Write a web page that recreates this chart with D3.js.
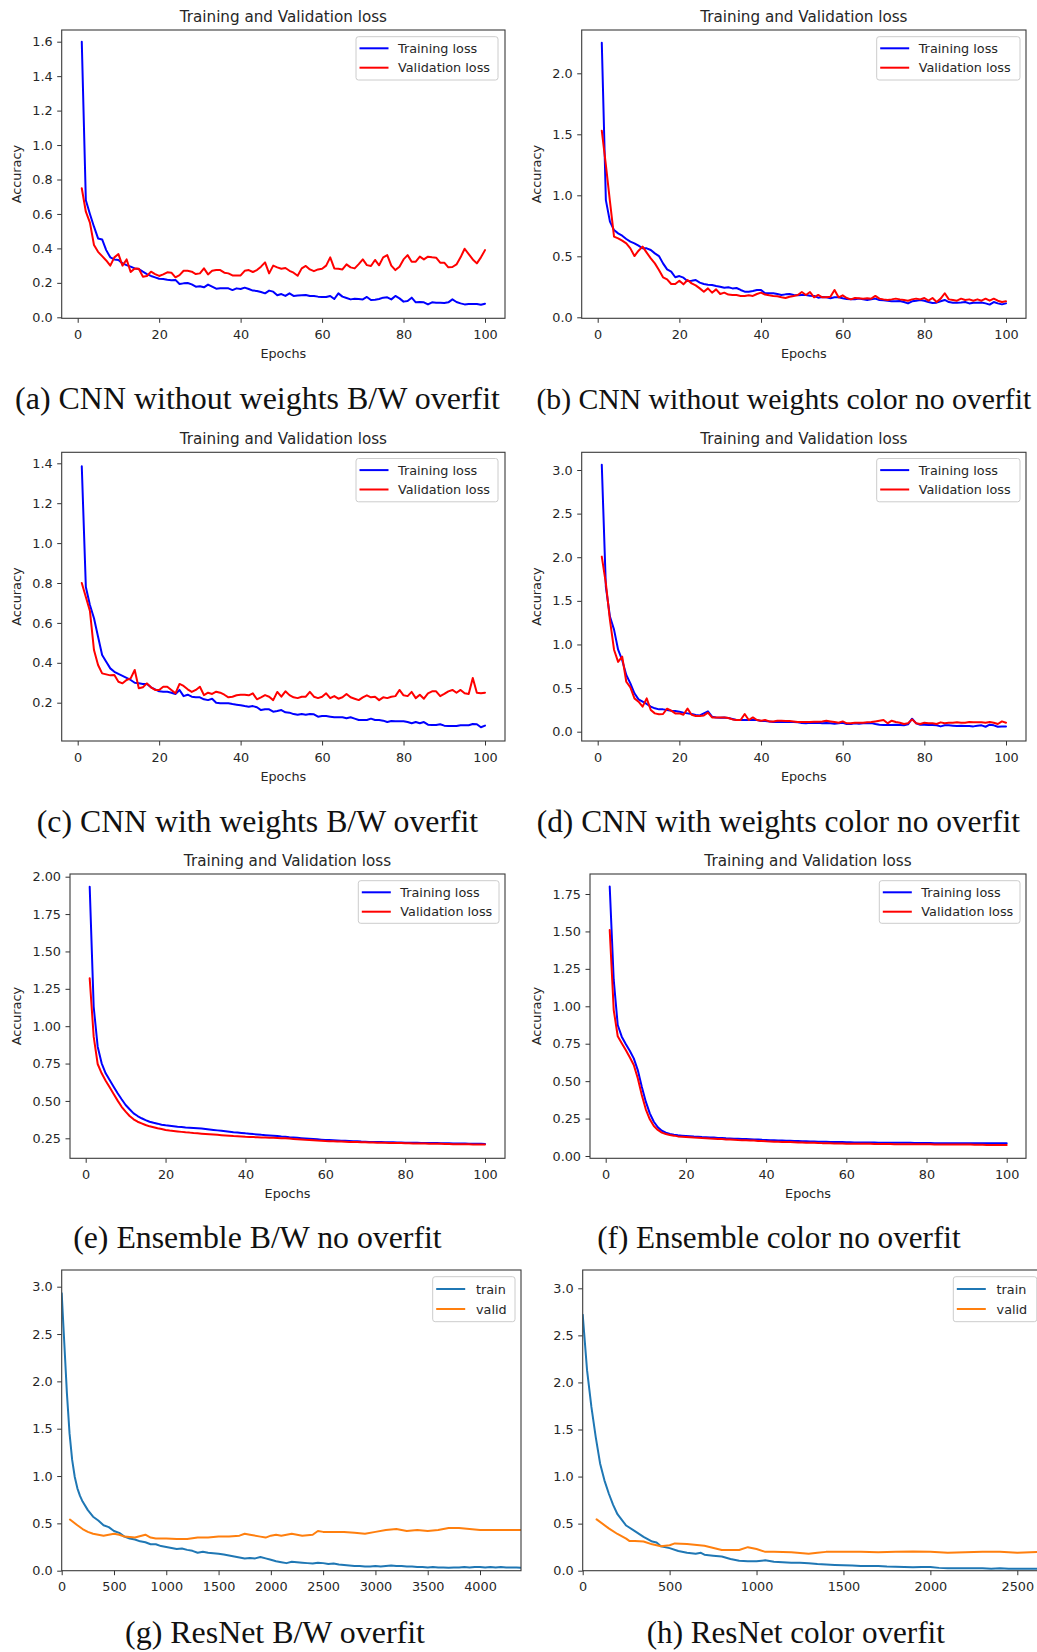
<!DOCTYPE html>
<html>
<head>
<meta charset="utf-8">
<script src="https://cdn.jsdelivr.net/npm/d3@7"></script>
<style>
  html, body { margin: 0; padding: 0; background: #fff; }
  svg { display: block; }
</style>
</head>
<body>
<svg id="fig" width="1037" height="1652"></svg>
<script>
// ---------- data ----------
const epochs = Array.from({length: 100}, (_, i) => i + 1);

// (a) CNN without weights, B/W
const aTrain = [1.60,0.68,0.60,0.526,0.458,0.452,0.39,0.348,0.336,0.333,0.313,0.303,0.294,0.284,0.28,0.265,0.251,0.24,0.232,0.224,
  0.222,0.218,0.215,0.217,0.193,0.197,0.199,0.191,0.178,0.18,0.174,0.19,0.178,0.166,0.168,0.168,0.168,0.158,0.168,0.164,
  0.172,0.164,0.155,0.153,0.147,0.139,0.155,0.149,0.128,0.135,0.124,0.139,0.124,0.126,0.128,0.13,0.124,0.124,0.12,0.118,
  0.118,0.124,0.106,0.139,0.12,0.112,0.104,0.108,0.106,0.104,0.118,0.10,0.102,0.106,0.114,0.116,0.104,0.124,0.11,0.091,
  0.095,0.114,0.087,0.089,0.087,0.075,0.087,0.085,0.085,0.083,0.087,0.104,0.089,0.081,0.075,0.077,0.077,0.077,0.073,0.079];
const aValid = [0.749,0.613,0.55,0.42,0.38,0.355,0.33,0.30,0.348,0.367,0.30,0.336,0.263,0.284,0.282,0.236,0.24,0.265,0.251,0.24,
  0.249,0.261,0.259,0.232,0.245,0.27,0.27,0.265,0.251,0.255,0.284,0.249,0.27,0.274,0.274,0.259,0.255,0.243,0.243,0.243,
  0.27,0.274,0.263,0.274,0.294,0.319,0.255,0.30,0.29,0.282,0.286,0.27,0.259,0.241,0.284,0.298,0.278,0.268,0.278,0.282,
  0.30,0.348,0.284,0.282,0.278,0.307,0.29,0.284,0.309,0.336,0.303,0.298,0.333,0.302,0.348,0.361,0.30,0.274,0.294,0.336,
  0.361,0.323,0.323,0.352,0.336,0.352,0.348,0.346,0.317,0.317,0.29,0.292,0.307,0.348,0.398,0.367,0.336,0.313,0.348,0.39];

// (b) CNN without weights, color
const bTrain = [2.25,0.96,0.784,0.715,0.688,0.669,0.642,0.62,0.606,0.587,0.565,0.565,0.552,0.524,0.502,0.442,0.393,0.374,0.328,0.338,
  0.325,0.297,0.30,0.306,0.284,0.273,0.267,0.265,0.257,0.251,0.243,0.246,0.237,0.24,0.224,0.21,0.21,0.216,0.224,0.224,
  0.197,0.197,0.197,0.191,0.183,0.188,0.191,0.183,0.18,0.183,0.183,0.177,0.175,0.161,0.166,0.164,0.156,0.164,0.164,0.156,
  0.15,0.147,0.147,0.153,0.147,0.142,0.147,0.153,0.142,0.139,0.136,0.131,0.131,0.134,0.125,0.114,0.131,0.136,0.142,0.136,
  0.125,0.117,0.12,0.131,0.142,0.125,0.12,0.12,0.122,0.125,0.114,0.12,0.12,0.122,0.114,0.104,0.125,0.114,0.106,0.114];
const bValid = [1.53,1.25,0.95,0.661,0.647,0.628,0.606,0.565,0.502,0.546,0.579,0.53,0.483,0.442,0.388,0.328,0.311,0.273,0.273,0.30,
  0.27,0.306,0.278,0.262,0.237,0.21,0.237,0.202,0.229,0.191,0.202,0.186,0.183,0.183,0.175,0.175,0.18,0.175,0.191,0.202,
  0.186,0.18,0.175,0.172,0.164,0.158,0.169,0.175,0.183,0.207,0.183,0.207,0.164,0.183,0.164,0.164,0.169,0.224,0.164,0.18,
  0.158,0.147,0.158,0.156,0.153,0.156,0.153,0.175,0.153,0.147,0.142,0.147,0.153,0.147,0.142,0.136,0.147,0.153,0.147,0.158,
  0.136,0.158,0.125,0.153,0.197,0.147,0.142,0.136,0.153,0.142,0.147,0.136,0.147,0.136,0.153,0.136,0.153,0.136,0.125,0.131];

// (c) CNN with weights, B/W
const cTrain = [1.385,0.78,0.69,0.623,0.531,0.439,0.405,0.372,0.355,0.344,0.334,0.324,0.314,0.30,0.297,0.294,0.294,0.277,0.267,0.257,
  0.255,0.255,0.25,0.244,0.264,0.233,0.24,0.23,0.227,0.227,0.217,0.213,0.22,0.20,0.197,0.197,0.197,0.193,0.19,0.187,
  0.183,0.18,0.183,0.177,0.163,0.167,0.167,0.155,0.158,0.163,0.152,0.15,0.143,0.14,0.143,0.14,0.143,0.142,0.13,0.133,
  0.133,0.13,0.127,0.127,0.127,0.122,0.127,0.12,0.113,0.113,0.113,0.12,0.113,0.113,0.11,0.103,0.108,0.107,0.107,0.107,
  0.103,0.097,0.103,0.097,0.103,0.09,0.088,0.088,0.092,0.085,0.083,0.083,0.083,0.087,0.087,0.087,0.093,0.092,0.077,0.085];
const cValid = [0.80,0.73,0.66,0.464,0.389,0.347,0.342,0.337,0.339,0.305,0.297,0.314,0.322,0.364,0.272,0.277,0.297,0.277,0.264,0.264,
  0.28,0.28,0.264,0.247,0.294,0.284,0.267,0.254,0.264,0.28,0.238,0.25,0.244,0.255,0.25,0.24,0.227,0.23,0.237,0.24,
  0.24,0.237,0.247,0.217,0.227,0.238,0.23,0.213,0.254,0.23,0.257,0.238,0.227,0.223,0.23,0.23,0.254,0.23,0.223,0.23,
  0.247,0.223,0.233,0.22,0.227,0.244,0.227,0.22,0.213,0.227,0.237,0.227,0.23,0.213,0.227,0.223,0.23,0.233,0.264,0.237,
  0.233,0.254,0.223,0.24,0.22,0.247,0.257,0.257,0.233,0.244,0.257,0.264,0.25,0.264,0.247,0.244,0.324,0.25,0.247,0.25];

// (d) CNN with weights, color
const dTrain = [3.06,1.66,1.32,1.17,0.94,0.82,0.65,0.554,0.44,0.37,0.344,0.318,0.287,0.268,0.256,0.256,0.249,0.241,0.237,0.23,
  0.218,0.21,0.203,0.191,0.187,0.21,0.233,0.172,0.164,0.16,0.164,0.157,0.145,0.134,0.134,0.134,0.134,0.134,0.134,0.122,
  0.122,0.118,0.111,0.111,0.111,0.111,0.111,0.111,0.107,0.099,0.096,0.103,0.099,0.103,0.096,0.099,0.096,0.092,0.096,0.103,
  0.088,0.088,0.096,0.092,0.096,0.096,0.099,0.088,0.08,0.077,0.077,0.077,0.08,0.077,0.073,0.084,0.149,0.096,0.08,0.08,
  0.077,0.077,0.073,0.061,0.073,0.073,0.069,0.065,0.069,0.065,0.065,0.061,0.069,0.073,0.057,0.08,0.073,0.057,0.061,0.061];
const dValid = [2.007,1.70,1.28,0.94,0.80,0.86,0.573,0.508,0.382,0.344,0.287,0.382,0.249,0.21,0.199,0.203,0.264,0.241,0.21,0.21,
  0.195,0.264,0.195,0.18,0.18,0.187,0.218,0.164,0.164,0.164,0.164,0.157,0.141,0.134,0.134,0.203,0.134,0.164,0.134,0.126,
  0.134,0.118,0.118,0.126,0.126,0.122,0.122,0.118,0.111,0.111,0.111,0.111,0.115,0.115,0.118,0.126,0.118,0.111,0.103,0.118,
  0.096,0.096,0.103,0.103,0.103,0.107,0.111,0.118,0.126,0.134,0.096,0.126,0.111,0.103,0.088,0.096,0.141,0.096,0.088,0.103,
  0.096,0.096,0.088,0.107,0.096,0.103,0.103,0.107,0.103,0.103,0.111,0.107,0.107,0.107,0.103,0.111,0.103,0.088,0.118,0.103];

// (e) Ensemble, B/W
const eTrain = [1.933,1.13,0.863,0.752,0.685,0.64,0.595,0.551,0.511,0.473,0.444,0.417,0.399,0.384,0.372,0.361,0.354,0.348,0.341,0.337,
  0.334,0.331,0.328,0.326,0.323,0.321,0.319,0.317,0.315,0.312,0.309,0.306,0.303,0.300,0.297,0.294,0.291,0.289,0.286,0.283,
  0.281,0.278,0.276,0.273,0.271,0.269,0.267,0.265,0.262,0.260,0.257,0.255,0.253,0.251,0.249,0.247,0.245,0.243,0.241,0.239,
  0.238,0.237,0.236,0.234,0.233,0.232,0.231,0.230,0.228,0.227,0.226,0.226,0.225,0.225,0.224,0.223,0.223,0.222,0.222,0.221,
  0.221,0.220,0.220,0.219,0.219,0.219,0.218,0.218,0.217,0.217,0.217,0.216,0.216,0.215,0.215,0.214,0.214,0.213,0.213,0.212];
const eValid = [1.32,0.93,0.747,0.685,0.635,0.591,0.546,0.502,0.461,0.428,0.399,0.377,0.361,0.35,0.339,0.33,0.324,0.317,0.312,0.306,
  0.302,0.299,0.296,0.293,0.290,0.288,0.285,0.283,0.281,0.279,0.277,0.275,0.273,0.271,0.269,0.267,0.265,0.264,0.262,0.260,
  0.259,0.258,0.257,0.256,0.255,0.254,0.253,0.252,0.251,0.250,0.248,0.246,0.244,0.242,0.240,0.239,0.237,0.235,0.234,0.232,
  0.231,0.230,0.229,0.228,0.227,0.226,0.225,0.225,0.224,0.223,0.222,0.222,0.221,0.221,0.220,0.219,0.219,0.218,0.218,0.217,
  0.217,0.216,0.216,0.215,0.215,0.214,0.214,0.213,0.213,0.212,0.212,0.211,0.211,0.211,0.210,0.210,0.209,0.209,0.209,0.208];

// (f) Ensemble, color
const fTrain = [1.80,1.176,0.875,0.797,0.748,0.703,0.652,0.574,0.463,0.363,0.285,0.229,0.192,0.169,0.156,0.147,0.142,0.138,0.136,0.134,
  0.132,0.130,0.129,0.127,0.126,0.124,0.123,0.121,0.120,0.118,0.117,0.116,0.115,0.114,0.113,0.112,0.111,0.110,0.108,0.107,
  0.106,0.105,0.104,0.103,0.102,0.102,0.101,0.100,0.099,0.098,0.097,0.097,0.096,0.096,0.095,0.094,0.094,0.093,0.093,0.092,
  0.092,0.091,0.091,0.091,0.090,0.090,0.090,0.089,0.089,0.089,0.089,0.088,0.088,0.088,0.088,0.088,0.087,0.087,0.087,0.087,
  0.087,0.086,0.086,0.086,0.086,0.086,0.086,0.085,0.085,0.085,0.085,0.085,0.085,0.085,0.085,0.085,0.085,0.085,0.085,0.085];
const fValid = [1.51,0.975,0.80,0.753,0.708,0.659,0.608,0.519,0.407,0.312,0.245,0.20,0.174,0.156,0.147,0.14,0.136,0.131,0.129,0.127,
  0.125,0.123,0.122,0.120,0.119,0.117,0.116,0.114,0.113,0.111,0.110,0.109,0.107,0.106,0.105,0.104,0.103,0.101,0.100,0.098,
  0.097,0.096,0.095,0.094,0.093,0.093,0.092,0.091,0.090,0.089,0.088,0.088,0.087,0.086,0.086,0.085,0.084,0.084,0.083,0.082,
  0.082,0.082,0.081,0.081,0.081,0.081,0.080,0.080,0.080,0.080,0.080,0.079,0.079,0.079,0.079,0.079,0.078,0.078,0.078,0.078,
  0.078,0.077,0.077,0.077,0.077,0.077,0.076,0.076,0.076,0.076,0.076,0.075,0.075,0.075,0.074,0.074,0.074,0.074,0.073,0.073];

// (g) ResNet, B/W  (iterations)
const gTrainSteps = [0,25,50,75,100,125,150,175,200,250,300,350,400,450,500,550,600,650,700,750,800,850,900,950,1000,
  1050,1100,1150,1200,1250,1300,1350,1400,1450,1500,1550,1600,1650,1700,1750,1800,1850,1900,1950,2000,
  2050,2100,2150,2200,2250,2300,2350,2400,2450,2500,2550,2600,2650,2700,2750,2800,2850,2900,2950,3000,
  3050,3100,3150,3200,3250,3300,3350,3400,3450,3500,3550,3600,3650,3700,3750,3800,3850,3900,3950,4000,
  4050,4100,4150,4200,4250,4300,4350,4390];
const gTrain = [2.93,2.40,1.87,1.45,1.17,0.99,0.87,0.79,0.73,0.64,0.57,0.53,0.48,0.46,0.42,0.40,0.36,0.34,0.33,0.31,0.30,0.28,0.28,0.26,0.25,
  0.24,0.23,0.235,0.22,0.21,0.19,0.20,0.19,0.185,0.18,0.17,0.16,0.15,0.14,0.13,0.135,0.13,0.145,0.13,0.115,
  0.10,0.09,0.08,0.095,0.09,0.085,0.08,0.075,0.085,0.08,0.07,0.075,0.065,0.06,0.055,0.05,0.05,0.045,0.045,0.05,
  0.045,0.05,0.055,0.05,0.05,0.045,0.045,0.04,0.04,0.035,0.04,0.035,0.035,0.03,0.035,0.035,0.04,0.035,0.04,0.04,
  0.035,0.04,0.035,0.04,0.035,0.035,0.035,0.03];
const gValidSteps = [79,150,200,250,300,350,400,500,550,600,700,800,850,900,1000,1100,1200,1300,1400,1500,1600,1700,1750,1800,
  1900,1950,2000,2050,2100,2200,2300,2400,2450,2500,2600,2700,2800,2900,3000,3100,3200,3300,3400,3500,3600,3700,3800,3900,
  4000,4100,4200,4300,4390];
const gValid = [0.54,0.48,0.44,0.41,0.39,0.38,0.37,0.39,0.38,0.36,0.35,0.38,0.35,0.34,0.34,0.335,0.335,0.35,0.35,0.36,0.36,0.37,0.39,0.38,
  0.36,0.35,0.37,0.38,0.37,0.39,0.37,0.38,0.42,0.41,0.41,0.41,0.40,0.39,0.41,0.43,0.44,0.42,0.43,0.42,0.43,0.45,0.45,0.44,
  0.43,0.43,0.43,0.43,0.43];

// (h) ResNet, color  (iterations)
const hTrainSteps = [0,25,50,75,100,125,150,175,200,225,250,300,350,400,425,450,500,550,600,650,680,700,750,800,850,900,950,1000,
  1050,1100,1150,1200,1250,1300,1350,1400,1450,1500,1550,1600,1650,1700,1750,1800,1850,1900,1950,2000,
  2050,2100,2150,2200,2250,2300,2350,2400,2450,2500,2550,2600,2614];
const hTrain = [2.72,2.13,1.74,1.42,1.14,0.96,0.82,0.70,0.60,0.54,0.48,0.42,0.36,0.31,0.30,0.26,0.24,0.21,0.19,0.18,0.19,0.17,0.16,0.15,0.125,0.106,0.10,0.10,
  0.11,0.095,0.09,0.085,0.085,0.08,0.07,0.065,0.06,0.057,0.055,0.05,0.05,0.05,0.045,0.043,0.04,0.036,0.04,0.04,
  0.03,0.025,0.025,0.025,0.025,0.025,0.022,0.025,0.022,0.022,0.022,0.022,0.022];
const hValidSteps = [80,150,200,250,270,300,350,400,450,500,530,600,700,800,900,950,1000,1050,1100,1200,1300,1350,1400,1500,
  1600,1700,1800,1900,2000,2100,2200,2300,2400,2500,2614];
const hValid = [0.545,0.45,0.39,0.34,0.315,0.315,0.31,0.28,0.26,0.27,0.29,0.283,0.266,0.22,0.22,0.25,0.23,0.20,0.20,0.195,0.18,0.19,0.20,0.20,
  0.20,0.195,0.20,0.205,0.20,0.19,0.195,0.20,0.20,0.19,0.20];

const cnnLegend = ["Training loss", "Validation loss"];
const resnetLegend = ["train", "valid"];
const cnnTitle = "Training and Validation loss";
const captions = [
  "(a) CNN without weights B/W overfit",
  "(b) CNN without weights color no overfit",
  "(c) CNN with weights B/W overfit",
  "(d) CNN with weights color no overfit",
  "(e) Ensemble B/W no overfit",
  "(f) Ensemble color no overfit",
  "(g) ResNet B/W overfit",
  "(h) ResNet color overfit"
];
const epochTicks = [0, 20, 40, 60, 80, 100];

// ---------- layout ----------
const BLUE = "#0000ff", RED = "#ff0000", TBLUE = "#1f77b4", TORANGE = "#ff7f0e";
const SANS = "'DejaVu Sans', sans-serif";
const SERIF = "'Liberation Serif', 'Times New Roman', serif";

// cap: [text, centre x, baseline y, target width]
const panels = [
  { frame: [61.7, 30, 505, 318.3], xd: [0, 100], xr: [77.7, 485], yd: [0, 1.6], yr: [317.3, 41.7],
    yTicks: [0, .2, .4, .6, .8, 1.0, 1.2, 1.4, 1.6], yFmt: ".1f", xTicks: epochTicks,
    series: [[epochs, aTrain, BLUE], [epochs, aValid, RED]], legend: cnnLegend, legBox: [356, 36.7, 142, 43.3],
    title: true, ylabX: 16.7, cap: [captions[0], 257.5, 409, 485] },
  { frame: [581.7, 30, 1026, 318.3], xd: [0, 100], xr: [597.7, 1006], yd: [0, 2.0], yr: [317.3, 73.3],
    yTicks: [0, .5, 1.0, 1.5, 2.0], yFmt: ".1f", xTicks: epochTicks,
    series: [[epochs, bTrain, BLUE], [epochs, bValid, RED]], legend: cnnLegend, legBox: [876.7, 36.7, 143.3, 43.3],
    title: true, ylabX: 536.7, cap: [captions[1], 783.8, 409, 495] },
  { frame: [61.7, 452.3, 505, 741], xd: [0, 100], xr: [77.7, 485], yd: [0.2, 1.4], yr: [702.7, 463.3],
    yTicks: [.2, .4, .6, .8, 1.0, 1.2, 1.4], yFmt: ".1f", xTicks: epochTicks,
    series: [[epochs, cTrain, BLUE], [epochs, cValid, RED]], legend: cnnLegend, legBox: [356, 458.5, 142, 43.3],
    title: true, ylabX: 16.7, cap: [captions[2], 257.5, 831.7, 441.6] },
  { frame: [581.7, 452.3, 1026, 741], xd: [0, 100], xr: [597.7, 1006], yd: [0, 3.0], yr: [731.7, 470],
    yTicks: [0, .5, 1.0, 1.5, 2.0, 2.5, 3.0], yFmt: ".1f", xTicks: epochTicks,
    series: [[epochs, dTrain, BLUE], [epochs, dValid, RED]], legend: cnnLegend, legBox: [876.7, 458.5, 143.3, 43.3],
    title: true, ylabX: 536.7, cap: [captions[3], 778.3, 831.7, 483.3] },
  { frame: [70, 874, 505, 1158.3], xd: [0, 100], xr: [85.7, 485], yd: [0.25, 2.0], yr: [1138.3, 876.7],
    yTicks: [.25, .5, .75, 1.0, 1.25, 1.5, 1.75, 2.0], yFmt: ".2f", xTicks: epochTicks,
    series: [[epochs, eTrain, BLUE], [epochs, eValid, RED]], legend: cnnLegend, legBox: [358.3, 880.7, 140.7, 42.6],
    title: true, ylabX: 16.7, cap: [captions[4], 257.4, 1248.3, 368.7] },
  { frame: [590, 874, 1026, 1158.3], xd: [0, 100], xr: [605.7, 1006.7], yd: [0, 1.75], yr: [1156, 894],
    yTicks: [0, .25, .5, .75, 1.0, 1.25, 1.5, 1.75], yFmt: ".2f", xTicks: epochTicks,
    series: [[epochs, fTrain, BLUE], [epochs, fValid, RED]], legend: cnnLegend, legBox: [879.3, 880.7, 140.7, 42.6],
    title: true, ylabX: 536.7, cap: [captions[5], 778.9, 1248.3, 363.7] },
  { frame: [61.7, 1270, 521, 1570.7], xd: [0, 4000], xr: [61.7, 480], yd: [0, 3.0], yr: [1570.7, 1286.7],
    yTicks: [0, .5, 1.0, 1.5, 2.0, 2.5, 3.0], yFmt: ".1f", xTicks: [0, 500, 1000, 1500, 2000, 2500, 3000, 3500, 4000],
    series: [[gTrainSteps, gTrain, TBLUE], [gValidSteps, gValid, TORANGE]], legend: resnetLegend, legBox: [432.7, 1276.7, 82.3, 45],
    title: false, cap: [captions[6], 275, 1643.3, 300] },
  { frame: [582.7, 1270, 1040, 1570.7], xd: [0, 2500], xr: [582.7, 1017.3], yd: [0, 3.0], yr: [1570.7, 1288.3],
    yTicks: [0, .5, 1.0, 1.5, 2.0, 2.5, 3.0], yFmt: ".1f", xTicks: [0, 500, 1000, 1500, 2000, 2500],
    series: [[hTrainSteps, hTrain, TBLUE], [hValidSteps, hValid, TORANGE]], legend: resnetLegend, legBox: [953.3, 1276.7, 83.5, 45],
    title: false, cap: [captions[7], 795.8, 1643.3, 298.3] }
];

// ---------- drawing ----------
const svg = d3.select("#fig");
svg.append("rect").attr("width", 1037).attr("height", 1652).attr("fill", "#fff");
const defs = svg.append("defs");

panels.forEach((p, i) => {
  const [l, t, r, b] = p.frame;
  const x = d3.scaleLinear().domain(p.xd).range(p.xr);
  const y = d3.scaleLinear().domain(p.yd).range(p.yr);
  const g = svg.append("g");

  defs.append("clipPath").attr("id", "clip" + i)
    .append("rect").attr("x", l).attr("y", t).attr("width", r - l).attr("height", b - t);

  // axes
  const yAxis = d3.axisLeft(y).tickValues(p.yTicks).tickFormat(d3.format(p.yFmt)).tickSize(4.5).tickPadding(4.5);
  const xAxis = d3.axisBottom(x).tickValues(p.xTicks).tickFormat(d3.format("d")).tickSize(4.5).tickPadding(7);
  const ya = g.append("g").attr("transform", `translate(${l},0)`).call(yAxis);
  const xa = g.append("g").attr("transform", `translate(0,${b})`).call(xAxis);
  [ya, xa].forEach(a => {
    a.select(".domain").remove();
    a.selectAll(".tick line").attr("stroke", "#333").attr("stroke-width", 1);
    a.selectAll(".tick text").attr("font-family", SANS).attr("font-size", 12.8).attr("fill", "#262626");
  });

  // data lines
  const lines = g.append("g").attr("clip-path", `url(#clip${i})`);
  p.series.forEach(([xs, ys, color]) => {
    const pts = xs.map((v, k) => [v, ys[k]]);
    lines.append("path")
      .attr("d", d3.line().x(d => x(d[0])).y(d => y(d[1]))(pts))
      .attr("fill", "none").attr("stroke", color).attr("stroke-width", 2)
      .attr("stroke-linejoin", "round").attr("stroke-linecap", "round");
  });

  // frame
  g.append("rect").attr("x", l).attr("y", t).attr("width", r - l).attr("height", b - t)
    .attr("fill", "none").attr("stroke", "#3a3a3a").attr("stroke-width", 1.1);

  // legend
  const [lx, ly, lw, lh] = p.legBox;
  const leg = g.append("g");
  leg.append("rect").attr("x", lx).attr("y", ly).attr("width", lw).attr("height", lh).attr("rx", 2.5)
    .attr("fill", "#fff").attr("fill-opacity", 0.8).attr("stroke", "#cccccc").attr("stroke-width", 1);
  const rowY = p.title ? [11.6, 31] : [12.3, 32.3];
  const textX = p.title ? 42 : 43.3;
  p.legend.forEach((name, k) => {
    const yy = ly + rowY[k];
    leg.append("line").attr("x1", lx + 3.5).attr("x2", lx + 32.5).attr("y1", yy).attr("y2", yy)
      .attr("stroke", p.series[k][2]).attr("stroke-width", 2);
    leg.append("text").attr("x", lx + textX).attr("y", yy).attr("dy", "0.36em")
      .attr("font-family", SANS).attr("font-size", 12.8).attr("fill", "#262626").text(name);
  });

  // titles and axis labels (CNN panels)
  if (p.title) {
    g.append("text").attr("x", (l + r) / 2).attr("y", t - 8).attr("text-anchor", "middle")
      .attr("font-family", SANS).attr("font-size", 15.2).attr("fill", "#262626").text(cnnTitle);
    g.append("text").attr("x", (l + r) / 2).attr("y", b + 35).attr("dy", "0.36em").attr("text-anchor", "middle")
      .attr("font-family", SANS).attr("font-size", 12.8).attr("fill", "#262626").text("Epochs");
    g.append("text").attr("transform", `translate(${p.ylabX},${(t + b) / 2}) rotate(-90)`)
      .attr("dy", "0.36em").attr("text-anchor", "middle")
      .attr("font-family", SANS).attr("font-size", 12.8).attr("fill", "#262626").text("Accuracy");
  }

  // caption: font size chosen so the line spans its target width
  const [cap, cx, cy, cw] = p.cap;
  const ct = svg.append("text").attr("x", cx).attr("y", cy).attr("text-anchor", "middle")
    .attr("font-family", SERIF).attr("font-size", 32).attr("fill", "#111").text(cap);
  const natural = ct.node().getComputedTextLength();
  if (natural > 0) ct.attr("font-size", Math.min(34, 32 * cw / natural));
});
</script>
</body>
</html>
